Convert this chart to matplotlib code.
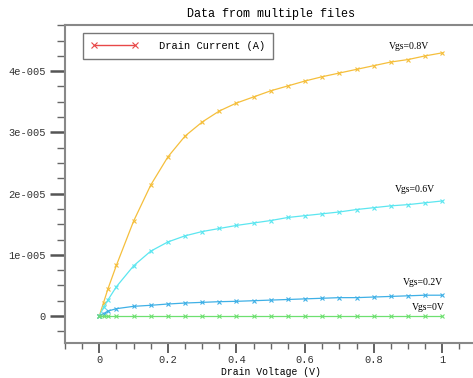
import matplotlib.pyplot as plt
from matplotlib.ticker import MultipleLocator, FuncFormatter

# drain voltage sweep (V)
vd = [0, 0.0125, 0.025, 0.05, 0.1, 0.15, 0.2, 0.25, 0.3, 0.35, 0.4, 0.45,
      0.5, 0.55, 0.6, 0.65, 0.7, 0.75, 0.8, 0.85, 0.9, 0.95, 1.0]

# drain current (A) for each gate voltage
id_08 = [0, 0.22e-5, 0.44e-5, 0.83e-5, 1.55e-5, 2.14e-5, 2.60e-5, 2.94e-5,
         3.17e-5, 3.35e-5, 3.48e-5, 3.58e-5, 3.68e-5, 3.76e-5, 3.84e-5,
         3.91e-5, 3.97e-5, 4.03e-5, 4.09e-5, 4.15e-5, 4.19e-5, 4.25e-5, 4.30e-5]
id_06 = [0, 0.14e-5, 0.26e-5, 0.48e-5, 0.82e-5, 1.06e-5, 1.21e-5, 1.31e-5,
         1.38e-5, 1.43e-5, 1.48e-5, 1.52e-5, 1.56e-5, 1.61e-5, 1.64e-5,
         1.67e-5, 1.70e-5, 1.74e-5, 1.77e-5, 1.80e-5, 1.82e-5, 1.85e-5, 1.88e-5]
id_02 = [0, 0.04e-5, 0.08e-5, 0.12e-5, 0.158e-5, 0.175e-5, 0.196e-5, 0.212e-5,
         0.223e-5, 0.234e-5, 0.24e-5, 0.25e-5, 0.26e-5, 0.27e-5, 0.28e-5,
         0.29e-5, 0.30e-5, 0.30e-5, 0.31e-5, 0.32e-5, 0.33e-5, 0.34e-5, 0.34e-5]
id_00 = [0] * len(vd)

labels = ['Vgs=0.8V', 'Vgs=0.6V', 'Vgs=0.2V', 'Vgs=0V']
label_pos = [(0.845, 4.40e-5), (0.863, 2.075e-5), (0.886, 0.54e-5), (0.91, 0.147e-5)]

mono = 'Liberation Mono'
fig = plt.figure(figsize=(4.73, 3.78), dpi=100)
ax = fig.add_axes([0.1374, 0.0926, 0.8702, 0.8413])

mk = dict(marker='x', ms=3.5, mew=0.8, lw=0.9)
ax.plot(vd, id_08, color='#f5bf3c', **mk)
ax.plot(vd, id_06, color='#5ce6f0', **mk)
ax.plot(vd, id_02, color='#3fb0e6', **mk)
ax.plot(vd, id_00, color='#6ee070', **mk)
ax.plot([], [], color='#e84848', marker='x', ms=5, mew=0.8, lw=1, label='Drain Current (A)')

for txt, (x, y) in zip(labels, label_pos):
    ax.text(x, y, txt, family='Liberation Serif', fontsize=7, ha='left', va='center')

ax.set_xlim(-0.1, 1.1)
ax.set_ylim(-0.441e-5, 4.755e-5)
ax.xaxis.set_major_locator(MultipleLocator(0.2))
ax.xaxis.set_minor_locator(MultipleLocator(0.05))
ax.yaxis.set_major_locator(MultipleLocator(1e-5))
ax.yaxis.set_minor_locator(MultipleLocator(0.25e-5))
ax.xaxis.set_major_formatter(FuncFormatter(lambda v, p: '0' if abs(v) < 1e-9 else ('1' if abs(v - 1) < 1e-9 else '%g' % v)))
ax.yaxis.set_major_formatter(FuncFormatter(lambda v, p: '0' if abs(v) < 1e-12 else '%de-005' % round(v / 1e-5)))

ax.tick_params(axis='y', which='major', length=11, width=1.8, color='#555555', direction='out', pad=3)
ax.tick_params(axis='y', which='minor', length=6, width=1, color='#666666', direction='out')
ax.tick_params(axis='x', which='major', length=7, width=1.3, color='#555555', direction='out', pad=2)
ax.tick_params(axis='x', which='minor', length=4, width=1, color='#666666', direction='out')
for lab in ax.get_xticklabels() + ax.get_yticklabels():
    lab.set_family(mono)
    lab.set_fontsize(7.5)
    lab.set_color('#333333')

for s in ax.spines.values():
    s.set_color('#888888')
    s.set_linewidth(1.5)
ax.spines['right'].set_visible(False)

ax.set_title('Data from multiple files', family=mono, fontsize=8.5, pad=6)
ax.set_xlabel('Drain Voltage (V)', family=mono, fontsize=7, labelpad=1)

leg = ax.legend(loc='upper left', bbox_to_anchor=(0.044, 0.975), borderaxespad=0,
                prop={'family': mono, 'size': 7.5},
                fancybox=False, edgecolor='#777777', framealpha=1, handlelength=4.5,
                numpoints=2, borderpad=0.75, handletextpad=2.0)
leg.get_frame().set_linewidth(1)

fig.savefig('out.png', dpi=100)
